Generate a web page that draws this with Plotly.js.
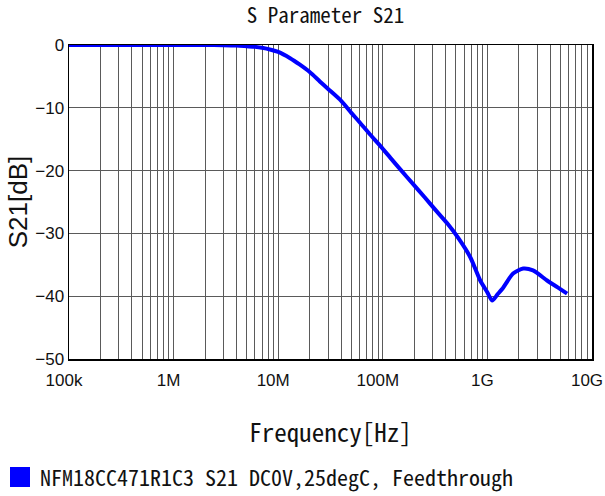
<!DOCTYPE html>
<html>
<head>
<meta charset="utf-8">
<script src="https://cdn.plot.ly/plotly-3.0.1.min.js"></script>
<style>html,body{margin:0;padding:0;background:#fff;}</style>
</head>
<body>
<div id="chart" style="width:605px;height:496px;"></div>
<script>
// Frequency (Hz) and S21 (dB)
const freqHz = [1e5, 2e5, 5e5, 1e6, 2e6, 3e6, 4e6, 5e6, 6e6, 7e6, 8.5e6, 10e6, 13e6, 16e6, 20e6, 25e6, 30e6, 40e6, 50e6, 60e6, 76e6, 95e6, 120e6, 147e6, 196e6, 250e6, 320e6, 413e6, 530e6, 686e6, 854e6, 1.0e9, 1.11e9, 1.25e9, 1.42e9, 1.76e9, 2.2e9, 2.73e9, 3.72e9, 4.7e9, 5.78e9];
const s21dB = [0, 0, 0, 0, 0, -0.02, -0.08, -0.2, -0.3, -0.45, -0.75, -1.1, -2.1, -3.1, -4.3, -5.8, -7.0, -8.9, -10.8, -12.3, -14.3, -16.1, -18.1, -19.8, -22.2, -24.2, -26.3, -28.4, -30.8, -33.8, -37.5, -39.4, -40.7, -39.7, -38.6, -36.4, -35.6, -35.9, -37.5, -38.6, -39.6];

const seriesName = "NFM18CC471R1C3 S21 DC0V,25degC, Feedthrough";
const chartTitle = "S Parameter S21";
const xTitle = "Frequency[Hz]";
const yTitle = "S21[dB]";

// Major x ticks (decades) with labels, and minor grid positions
const xMajorVals = [1e5, 1e6, 1e7, 1e8, 1e9, 1e10];
const xMajorText = ["100k", "1M", "10M", "100M", "1G", "10G"];
const yTickVals = [0, -10, -20, -30, -40, -50];
const yTickText = ["0", "\u221210", "\u221220", "\u221230", "\u221240", "\u221250"];

const xTickVals = [];
const xTickText = [];
for (let d = 0; d < xMajorVals.length; d++) {
  xTickVals.push(xMajorVals[d]);
  xTickText.push(xMajorText[d]);
  if (d < xMajorVals.length - 1) {
    for (let m = 2; m <= 9; m++) {
      xTickVals.push(xMajorVals[d] * m);
      xTickText.push("");
    }
  }
}

const monoFont = "'Noto Sans Mono CJK JP', 'Liberation Mono', monospace";
const sansFont = "'Liberation Sans', Arial, sans-serif";

const traces = [
  {
    x: freqHz, y: s21dB, type: "scatter", mode: "lines",
    line: {color: "#0000ff", width: 4, shape: "spline", smoothing: 0.7},
    showlegend: false, hoverinfo: "skip"
  },
  {
    x: [null], y: [null], type: "scatter", mode: "markers",
    name: seriesName,
    marker: {color: "#0000ff", symbol: "square", size: 16, line: {color: "#0000ff", width: 4}}
  }
];

const layout = {
  width: 605, height: 496,
  margin: {l: 69, r: 13, t: 45, b: 137, pad: 0, autoexpand: false},
  paper_bgcolor: "#fff", plot_bgcolor: "#fff",
  title: {
    text: chartTitle, xref: "container", x: 0.538, xanchor: "center",
    yref: "container", y: 0.968, yanchor: "middle",
    font: {family: monoFont, size: 21, color: "#111"}
  },
  xaxis: {
    type: "log", range: [4.99999, 10.00001], automargin: false,
    tickmode: "array", tickvals: xTickVals, ticktext: xTickText,
    ticklabeloverflow: "allow", ticklabelshift: -5, ticklabelstandoff: 5,
    showgrid: true, gridcolor: "#5a5a5a", gridwidth: 1,
    showline: true, linecolor: "#000", linewidth: 1.5, mirror: true,
    ticks: "", zeroline: false,
    tickfont: {family: sansFont, size: 17, color: "#111"},
    title: {text: xTitle, standoff: 35, font: {family: monoFont, size: 25, color: "#111"}}
  },
  yaxis: {
    range: [-50, 0], automargin: false,
    tickmode: "array", tickvals: yTickVals, ticktext: yTickText,
    showgrid: true, gridcolor: "#5a5a5a", gridwidth: 1,
    showline: true, linecolor: "#000", linewidth: 1.5, mirror: true,
    ticks: "", zeroline: false,
    tickfont: {family: sansFont, size: 17, color: "#111"},
    title: {text: yTitle, standoff: 0, font: {family: sansFont, size: 26, color: "#111"}}
  },
  showlegend: true,
  legend: {
    orientation: "h", xref: "container", yref: "container",
    x: 0.0, xanchor: "left", y: 0.038, yanchor: "middle",
    font: {family: monoFont, size: 22, color: "#111"},
    bgcolor: "rgba(0,0,0,0)", borderwidth: 0
  }
};

Plotly.newPlot("chart", traces, layout, {displayModeBar: false, staticPlot: true});
</script>
</body>
</html>
